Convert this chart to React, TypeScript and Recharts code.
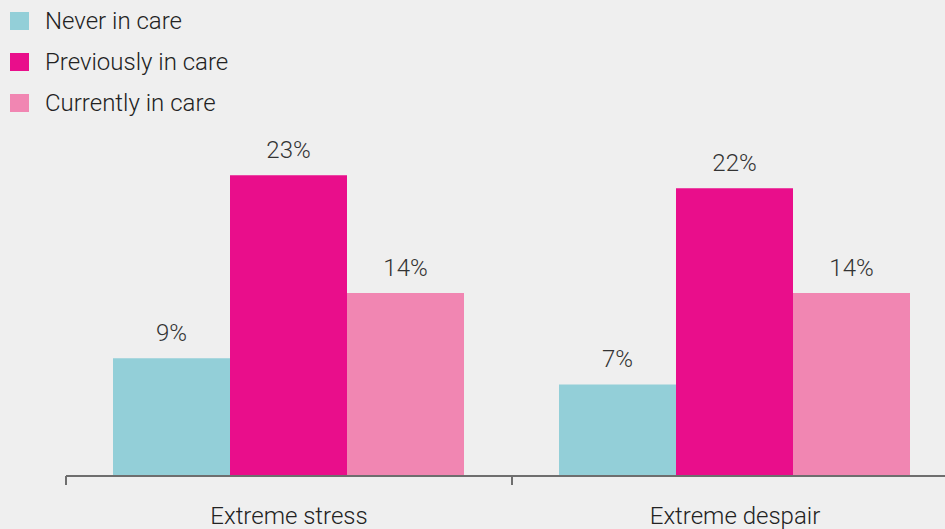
import { BarChart, Bar, XAxis, YAxis, LabelList } from 'recharts';

const categories = ['Extreme stress', 'Extreme despair'];
const neverInCare = [9, 7];
const previouslyInCare = [23, 22];
const currentlyInCare = [14, 14];

const seriesNames = ['Never in care', 'Previously in care', 'Currently in care'];
const seriesColors = ['#93cfd8', '#e90e8b', '#f186b2'];

const data = categories.map((name, i) => ({
  name,
  never: neverInCare[i],
  previously: previouslyInCare[i],
  currently: currentlyInCare[i],
}));

const FONT = 'Roboto, "Noto Sans", sans-serif';
const CHART_W = 960;
const MARGIN_LEFT = 66;
const MARGIN_RIGHT = 2;
const BAND = (CHART_W - MARGIN_LEFT - MARGIN_RIGHT) / categories.length;

function CategoryTick(props: any) {
  const { x, y, payload } = props;
  const axisY = y - 8;
  return (
    <g>
      <line x1={x - BAND / 2} x2={x - BAND / 2} y1={axisY} y2={axisY + 9} stroke="#6e6e6e" strokeWidth={2} />
      <text x={x} y={axisY + 48} textAnchor="middle" fill="#222" fontSize={24} fontWeight={300} fontFamily={FONT}>
        {payload.value}
      </text>
    </g>
  );
}

const pct = (v: any) => `${v}%`;

export default function App() {
  const keys = ['never', 'previously', 'currently'];
  return (
    <div style={{ position: 'absolute', left: 0, top: 0, width: 945, height: 529, overflow: 'hidden', background: '#efefef' }}>
      <div style={{ position: 'absolute', left: 10, top: 0, fontFamily: FONT }}>
        {seriesNames.map((n, i) => (
          <div key={n} style={{ display: 'flex', alignItems: 'center', height: 41 }}>
            <div style={{ width: 19, height: 18, background: seriesColors[i], marginRight: 16 }} />
            <span style={{ fontSize: 24, fontWeight: 300, color: '#222' }}>{n}</span>
          </div>
        ))}
      </div>
      <BarChart
        width={CHART_W}
        height={529}
        data={data}
        margin={{ top: 149, right: MARGIN_RIGHT, left: MARGIN_LEFT, bottom: 0 }}
        barCategoryGap={47}
        barGap={0}
      >
        <XAxis
          dataKey="name"
          height={53}
          axisLine={{ stroke: '#6e6e6e', strokeWidth: 2 }}
          tickLine={false}
          tick={<CategoryTick />}
          interval={0}
        />
        <YAxis hide domain={[0, 25]} />
        {keys.map((k, i) => (
          <Bar key={k} dataKey={k} name={seriesNames[i]} fill={seriesColors[i]} isAnimationActive={false}>
            <LabelList
              dataKey={k}
              position="top"
              offset={17}
              formatter={pct}
              fill="#333"
              fontSize={24}
              fontWeight={300}
              fontFamily={FONT}
            />
          </Bar>
        ))}
      </BarChart>
    </div>
  );
}
